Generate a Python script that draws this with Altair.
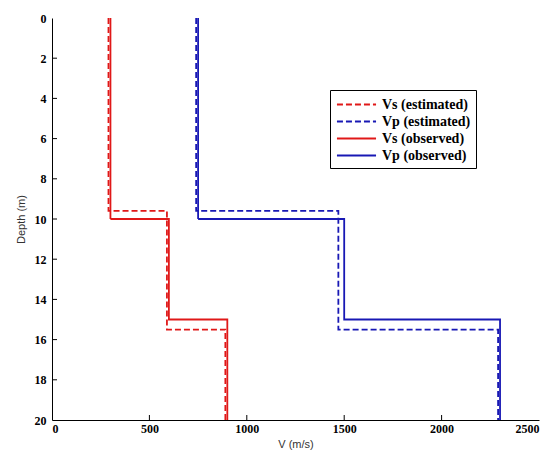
import altair as alt
import pandas as pd

series = ["Vs (estimated)", "Vp (estimated)", "Vs (observed)", "Vp (observed)"]
colors = ["#e01818", "#1818b4", "#e01818", "#1818b4"]
dashes = [[6, 3], [6, 3], [1, 0], [1, 0]]

# layer velocities (m/s) and layer boundaries (m)
vs_est_v = [290, 590, 890]
vs_est_b = [9.6, 15.5]
vp_est_v = [740, 1470, 2290]
vp_est_b = [9.6, 15.5]
vs_obs_v = [300, 600, 900]
vs_obs_b = [10, 15]
vp_obs_v = [750, 1500, 2300]
vp_obs_b = [10, 15]

max_depth = 20
x_ticks = [0, 500, 1000, 1500, 2000, 2500]
y_ticks = [0, 2, 4, 6, 8, 10, 12, 14, 16, 18, 20]


def steps(name, vels, bounds):
    depths = [0] + bounds + [max_depth]
    rows = []
    k = 0
    for i, v in enumerate(vels):
        for d in (depths[i], depths[i + 1]):
            rows.append({"series": name, "v": v, "depth": d, "ord": k})
            k += 1
    return rows


rows = (steps(series[0], vs_est_v, vs_est_b) + steps(series[1], vp_est_v, vp_est_b)
        + steps(series[2], vs_obs_v, vs_obs_b) + steps(series[3], vp_obs_v, vp_obs_b))
df = pd.DataFrame(rows)

xs = alt.Scale(domain=[0, 2500], nice=False, zero=False)
ys = alt.Scale(domain=[0, 20], reverse=True, nice=False, zero=False)

lab = dict(labelFont="Liberation Serif", labelFontWeight="bold", labelFontSize=12,
           labelColor="#000", domainColor="#000", domainWidth=1, tickSize=0,
           grid=False, titleFont="Liberation Sans", titleFontWeight="normal",
           titleFontSize=11, titleColor="#333", format="d")

lines = alt.Chart(df).mark_line(strokeWidth=1.8).encode(
    x=alt.X("v:Q", scale=xs, axis=alt.Axis(values=x_ticks, title="V (m/s)", labelPadding=3,
                                           titlePadding=4, **lab)),
    y=alt.Y("depth:Q", scale=ys, axis=alt.Axis(values=y_ticks, title="Depth (m)",
                                               labelPadding=6, titlePadding=8, **lab)),
    color=alt.Color("series:N", scale=alt.Scale(domain=series, range=colors),
                    legend=alt.Legend(title=None, orient="none", legendX=278, legendY=72,
                                      symbolType="M-2.3,0H2.3", symbolSize=289,
                                      symbolStrokeWidth=1.8, labelFont="Liberation Serif",
                                      labelFontWeight="bold", labelFontSize=14,
                                      labelColor="#000", strokeColor="#000",
                                      fillColor="#fff", padding=5, rowPadding=0,
                                      symbolOffset=12, labelOffset=16)),
    strokeDash=alt.StrokeDash("series:N", scale=alt.Scale(domain=series, range=dashes),
                              legend=alt.Legend(title=None)),
    order="ord:Q",
)

xt = pd.DataFrame({"t": x_ticks[1:-1]})
yt = pd.DataFrame({"t": y_ticks[1:-1]})
xtick = alt.Chart(xt).mark_rule(color="#000", strokeWidth=1).encode(
    x=alt.X("t:Q", scale=xs), y=alt.value(402), y2=alt.value(397))
ytick = alt.Chart(yt).mark_rule(color="#000", strokeWidth=1).encode(
    y=alt.Y("t:Q", scale=ys), x=alt.value(0), x2=alt.value(5))

chart = alt.layer(lines, xtick, ytick).properties(
    width=487, height=402,
    autosize=alt.AutoSizeParams(type="none"),
    padding={"left": 44, "top": 10, "right": 10, "bottom": 30},
    background="#ffffff",
).configure_view(stroke=None)

chart.save("out.html", embed_options={"renderer": "svg", "actions": False})
